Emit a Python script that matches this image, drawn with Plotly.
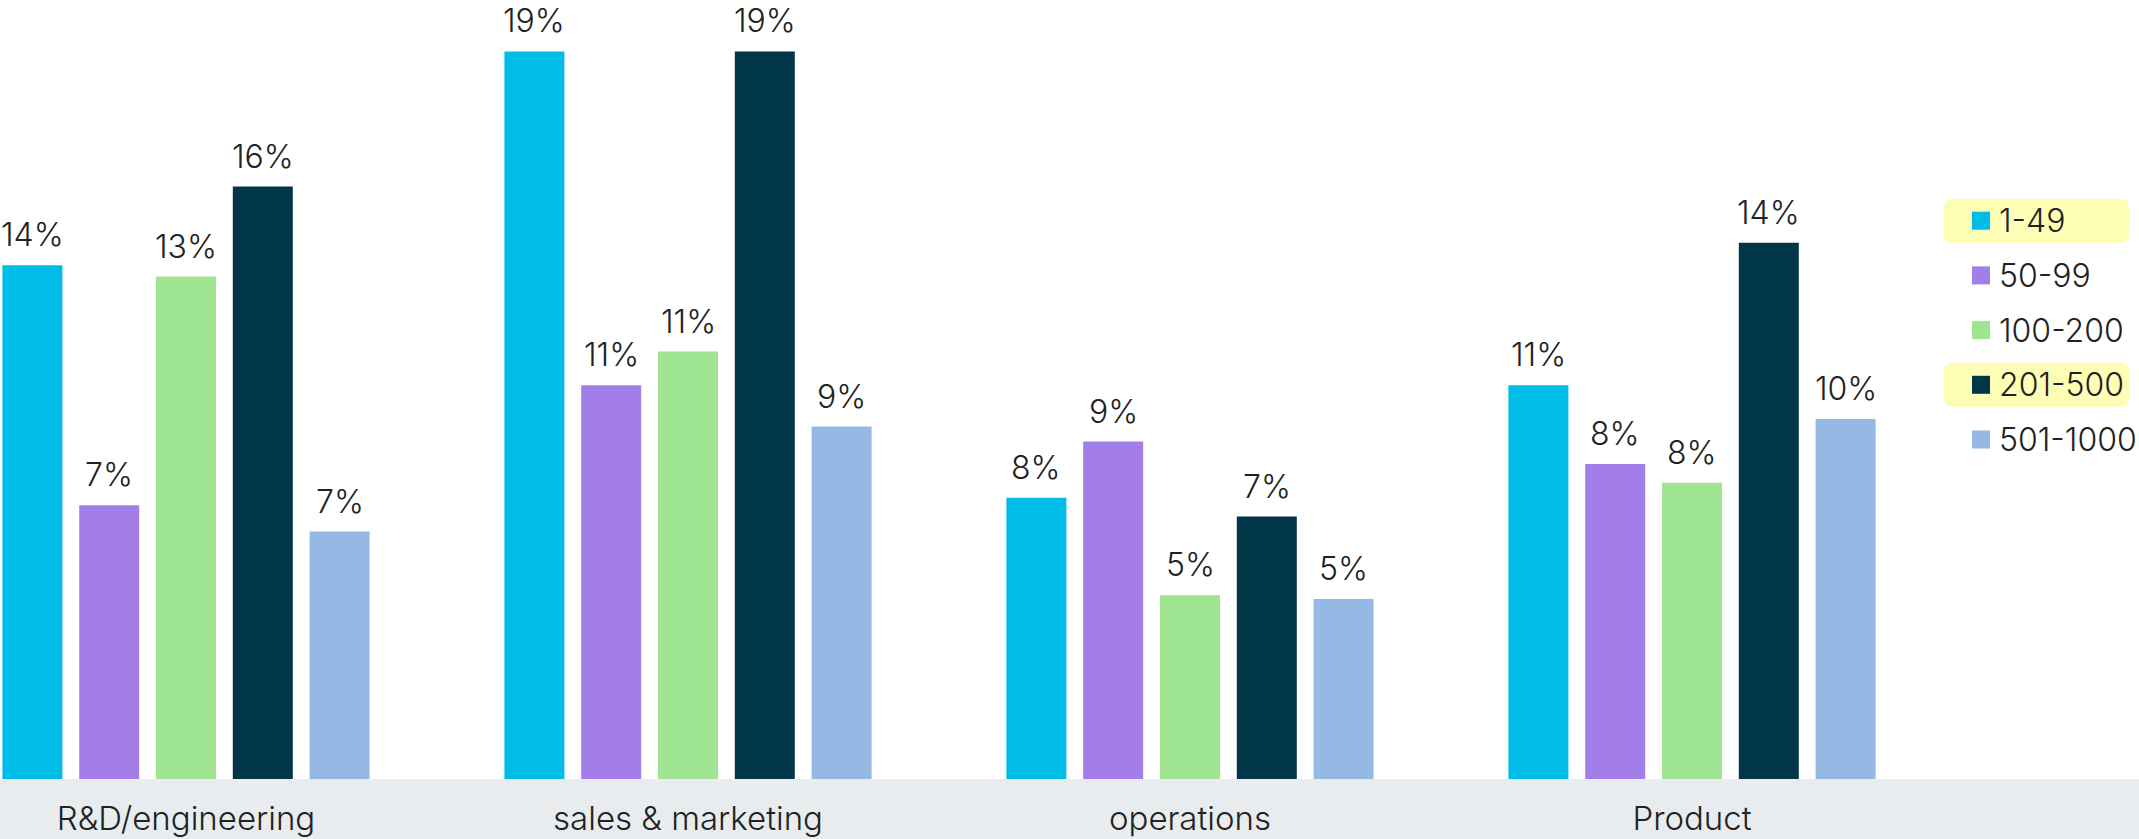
import plotly.graph_objects as go

# ---------------- data ----------------
categories = ["R&D/engineering", "sales & marketing", "operations", "Product"]
series_names = ["1-49", "50-99", "100-200", "201-500", "501-1000"]
# bar heights (%)
v_1_49 = [13.7, 19.4, 7.5, 10.5]
v_50_99 = [7.3, 10.5, 9.0, 8.4]
v_100_200 = [13.4, 11.4, 4.9, 7.9]
v_201_500 = [15.8, 19.4, 7.0, 14.3]
v_501_1000 = [6.6, 9.4, 4.8, 9.6]
# printed labels
l_1_49 = ["14%", "19%", "8%", "11%"]
l_50_99 = ["7%", "11%", "9%", "8%"]
l_100_200 = ["13%", "11%", "5%", "8%"]
l_201_500 = ["16%", "19%", "7%", "14%"]
l_501_1000 = ["7%", "9%", "5%", "10%"]
highlighted = ["1-49", "201-500"]

values = [v_1_49, v_50_99, v_100_200, v_201_500, v_501_1000]
labels = [l_1_49, l_50_99, l_100_200, l_201_500, l_501_1000]
colors = ["#00BDE8", "#A47EE8", "#9FE592", "#013548", "#95B9E5"]

# ---------------- layout constants ----------------
W, H = 2139, 839
MB = 60
PH = H - MB
CAT_PX = 502.0
FIRST_PX = 186.0
BARGAP = 0.235
BARGROUPGAP = 0.219
PX_PER_UNIT = 37.5
FONT = "Inter, Lato, sans-serif"
TXT = "#222222"

x0 = -FIRST_PX / CAT_PX
x1 = x0 + W / CAT_PX
slot = CAT_PX * (1 - BARGAP) / len(series_names)


def px_x(px):
    return px / W


def px_y(py):
    return (PH - py) / PH


def rounded_rect_path(l, t, r, b, rad):
    pts = []
    def P(x, y):
        return f"{px_x(x):.6f},{px_y(y):.6f}"
    return (f"M {P(l + rad, t)} L {P(r - rad, t)} Q {P(r, t)} {P(r, t + rad)} "
            f"L {P(r, b - rad)} Q {P(r, b)} {P(r - rad, b)} "
            f"L {P(l + rad, b)} Q {P(l, b)} {P(l, b - rad)} "
            f"L {P(l, t + rad)} Q {P(l, t)} {P(l + rad, t)} Z")


fig = go.Figure()
for j, name in enumerate(series_names):
    fig.add_trace(go.Bar(
        x=categories, y=values[j], name=name,
        marker=dict(color=colors[j], line=dict(width=0)),
        showlegend=False, hovertemplate="%{x}<br>" + name + ": %{y}%<extra></extra>",
    ))

annotations = []
for j in range(len(series_names)):
    for i, c in enumerate(categories):
        annotations.append(dict(
            x=c, y=values[j][i], xref="x", yref="y",
            text=labels[j][i], showarrow=False,
            xanchor="center", yanchor="bottom",
            xshift=(j - (len(series_names) - 1) / 2) * slot, yshift=9,
            font=dict(family=FONT, size=32, color=TXT, weight=300),
        ))

shapes = [dict(type="rect", xref="paper", yref="paper", x0=0, x1=1,
               y0=-MB / PH, y1=0, fillcolor="#E8ECEF", line=dict(width=0),
               layer="below")]

# legend (custom, right side)
ROW0, ROW_STEP = 220.7, 54.7
SQ_L, SQ = 1972, 18
TXT_L = 1997
for k, name in enumerate(series_names):
    cy = ROW0 + k * ROW_STEP
    if name in highlighted:
        shapes.append(dict(type="path", xref="paper", yref="paper",
                           path=rounded_rect_path(1944, cy - 22, 2129, cy + 22, 9),
                           fillcolor="#FEFDB5", line=dict(width=0), layer="below"))
    shapes.append(dict(type="rect", xref="paper", yref="paper",
                       x0=px_x(SQ_L), x1=px_x(SQ_L + SQ),
                       y0=px_y(cy + SQ / 2), y1=px_y(cy - SQ / 2),
                       fillcolor=colors[k], line=dict(width=0), layer="above"))
    annotations.append(dict(
        x=px_x(TXT_L), y=px_y(cy), xref="paper", yref="paper",
        text=name, showarrow=False, xanchor="left", yanchor="middle",
        font=dict(family=FONT, size=32, color=TXT, weight=300),
    ))

fig.update_layout(
    width=W, height=H, autosize=False,
    margin=dict(l=0, r=0, t=0, b=MB, pad=0),
    paper_bgcolor="white", plot_bgcolor="rgba(0,0,0,0)",
    barmode="group", bargap=BARGAP, bargroupgap=BARGROUPGAP,
    showlegend=False,
    xaxis=dict(type="category", range=[x0, x1], showgrid=False, zeroline=False,
               showline=False, ticks="", automargin=False,
               tickfont=dict(family=FONT, size=33, color=TXT, weight=300),
               ticklabelstandoff=17, fixedrange=True),
    yaxis=dict(range=[0, PH / PX_PER_UNIT], visible=False, fixedrange=True),
    annotations=annotations, shapes=shapes,
    font=dict(family=FONT, color=TXT),
)

fig.write_html("out.html", config={"displayModeBar": False},
               post_script="document.body.style.margin='0';document.body.style.overflow='hidden';")
